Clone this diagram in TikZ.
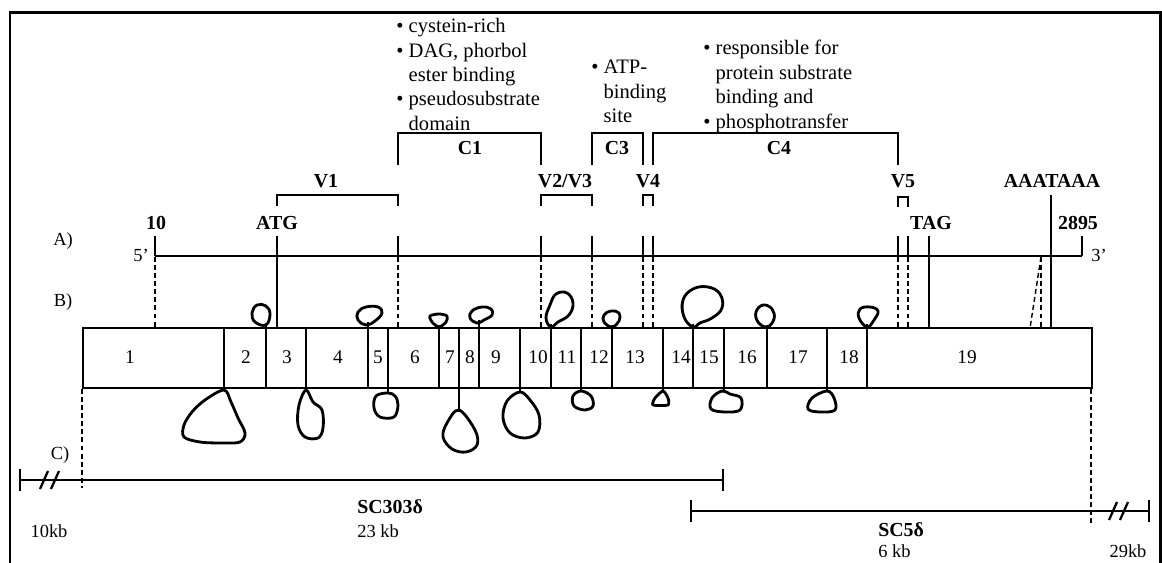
\documentclass[tikz,border=0pt]{standalone}
\usepackage{fontspec}
\setmainfont{Liberation Serif}
\usetikzlibrary{positioning}

\begin{document}
\begin{tikzpicture}[
    x=0.02cm, y=-0.02cm,
    every node/.style={inner sep=0pt},
    boldlbl/.style={font=\fontsize{11.3}{13}\selectfont\bfseries},
    exnum/.style={font=\fontsize{11}{13}\selectfont},
    rowlbl/.style={font=\fontsize{10.5}{13}\selectfont},
    note/.style={font=\fontsize{11.7}{13.9}\selectfont, align=left, anchor=north west},
    outerframe/.style={line width=1.7pt},
    gene/.style={line width=1.3pt},
    thinmark/.style={line width=0.8pt},
    guide/.style={line width=1.1pt, dash pattern=on 2.8pt off 1.8pt},
    regionbracket/.style={line width=0.9pt},
    exonbox/.style={line width=1.4pt},
    rnaloop/.style={line width=1.6pt, line join=round},
    clone/.style={line width=1.3pt},
]
\useasboundingbox (0,0) rectangle (1162,563);
\draw[outerframe] (10,580) -- (10,13) -- (1160,13) -- (1160,580);

% domain notes
\node[note] (noteC1) at (396,18) {\textbullet\ cystein-rich\\\textbullet\ DAG, phorbol\\\hphantom{\textbullet\ }ester binding\\\textbullet\ pseudosubstrate\\\hphantom{\textbullet\ }domain};
\node[note] (noteC3) at (591,60) {\textbullet\ ATP-\\\hphantom{\textbullet\ }binding\\\hphantom{\textbullet\ }site};
\node[note] (noteC4) at (703,40) {\textbullet\ responsible for\\\hphantom{\textbullet\ }protein substrate\\\hphantom{\textbullet\ }binding and\\\textbullet\ phosphotransfer};

% conserved and variable regions
\draw[regionbracket] (398,165) -- (398,133) -- (541,133) -- (541,165);
\draw[regionbracket] (592,165) -- (592,133) -- (643,133) -- (643,165);
\draw[regionbracket] (653,165) -- (653,133) -- (898,133) -- (898,165);
\draw[regionbracket] (277,206) -- (277,195) -- (398,195) -- (398,206);
\draw[regionbracket] (541,206) -- (541,195) -- (592,195) -- (592,206);
\draw[regionbracket] (643,206) -- (643,195) -- (653,195) -- (653,206);
\draw[regionbracket] (898,207) -- (898,197) -- (908,197) -- (908,207);
\node[boldlbl] (C1) at (470,148) {C1};
\node[boldlbl] (C3) at (617,148) {C3};
\node[boldlbl] (C4) at (779,148) {C4};
\node[boldlbl] (V1) at (326,181) {V1};
\node[boldlbl] (V23) at (565,181) {V2/V3};
\node[boldlbl] (V4) at (648,181) {V4};
\node[boldlbl] (V5) at (903,181) {V5};
\node[boldlbl] (polyA) at (1052,181) {AAATAAA};

% A) cDNA
\node[rowlbl] (rowA) at (63,241) {A)};
\node[rowlbl] (rowB) at (63,302) {B)};
\node[rowlbl] (rowC) at (60,455) {C)};
\node[boldlbl] (start10) at (156,223) {10};
\node[boldlbl] (atg) at (277,223) {ATG};
\node[boldlbl] (stop) at (931,223) {TAG};
\node[boldlbl] (end2895) at (1078,223) {2895};
\node[rowlbl] (five) at (141,255) {5'};
\node[rowlbl] (three) at (1099,255) {3'};
\draw[gene] (155,256) -- (1082,256);
\foreach \x in {155,398,541,592,643,653,898,908,1082}
  \draw[gene] (\x,236) -- (\x,256);
\foreach \x in {155,398,541,592,643,653,898,908}
  \draw[guide] (\x,257) -- (\x,328);
\draw[guide, line width=0.8pt] (1041,257) -- (1041,328);
\draw[guide, line width=0.8pt] (1041,257) -- (1030,328);
\draw[thinmark] (277,236) -- (277,328);
\draw[thinmark] (929,236) -- (929,328);
\draw[line width=1pt] (1051,195) -- (1051,328);

% B) exons
\draw[exonbox] (83,328) rectangle (1092,388);
\foreach \x in {224,266,306,368,388,439,459,479,520,551,581,612,663,693,724,767,827,867}
  \draw[exonbox] (\x,328) -- (\x,388);
\foreach \n/\x in {1/130,2/246,3/287,4/338,5/378,6/415,7/450,8/470,9/496,10/538,11/567,12/599,13/635,14/681,15/709,16/747,17/798,18/849,19/967}
  \node[exnum] (ex\n) at (\x,357) {\n};

% introns above
\foreach \x/\y in {266/323,368/322,439/325,479/320,551/324,612/325,693/324,767/325,867/324}
  \draw[rnaloop] (\x,328) -- (\x,\y);
\draw[rnaloop] plot[smooth cycle, tension=0.7] coordinates {(266,325) (255,322) (252,313) (257,305) (266,306) (270,314)};
\draw[rnaloop] plot[smooth cycle, tension=0.7] coordinates {(366,325) (358,320) (358,312) (366,307) (378,307) (382,313) (375,321)};
\draw[rnaloop] plot[smooth cycle, tension=0.5] coordinates {(439,327) (432,322) (430,316) (439,314) (447,316) (446,322)};
\draw[rnaloop] plot[smooth cycle, tension=0.7] coordinates {(477,323) (470,318) (472,311) (482,307) (491,309) (492,315) (484,320)};
\draw[rnaloop] plot[smooth cycle, tension=0.7] coordinates {(551,327) (546,318) (550,305) (556,294) (567,293) (573,303) (569,315) (558,322)};
\draw[rnaloop] plot[smooth cycle, tension=0.7] coordinates {(612,327) (604,322) (604,315) (611,311) (619,313) (619,321)};
\draw[rnaloop] plot[smooth cycle, tension=0.7] coordinates {(693,327) (684,317) (683,300) (693,289) (708,287) (720,294) (722,308) (712,318) (700,323)};
\draw[rnaloop] plot[smooth cycle, tension=0.7] coordinates {(767,327) (758,322) (756,312) (763,305) (772,309) (774,319)};
\draw[rnaloop] plot[smooth cycle, tension=0.7] coordinates {(867,327) (859,318) (860,309) (870,307) (878,311) (874,320)};

% introns below
\foreach \x/\y in {224/391,306/391,388/394,459/412,520/393,581/391,663/392,724/392,827/392}
  \draw[rnaloop] (\x,388) -- (\x,\y);
\draw[rnaloop] plot[smooth cycle, tension=0.55] coordinates {(224,390) (205,400) (192,412) (184,425) (184,437) (200,442) (222,443) (240,442) (245,433) (238,418) (231,402)};
\draw[rnaloop] plot[smooth cycle, tension=0.6] coordinates {(306,390) (299,405) (298,425) (305,437) (318,438) (323,428) (322,410) (313,402)};
\draw[rnaloop] plot[smooth cycle, tension=0.6] coordinates {(388,393) (376,396) (374,408) (380,417) (394,417) (398,405) (395,396)};
\draw[rnaloop] plot[smooth cycle, tension=0.6] coordinates {(459,410) (447,423) (443,437) (452,449) (466,452) (477,445) (475,430)};
\draw[rnaloop] plot[smooth cycle, tension=0.6] coordinates {(520,392) (507,401) (503,418) (510,433) (525,438) (538,432) (539,415) (530,400)};
\draw[rnaloop] plot[smooth cycle, tension=0.6] coordinates {(581,391) (573,396) (574,406) (585,410) (593,406) (591,396)};
\draw[rnaloop] plot[smooth cycle, tension=0.4] coordinates {(663,391) (655,398) (653,405) (668,405) (668,398)};
\draw[rnaloop] plot[smooth cycle, tension=0.6] coordinates {(722,391) (712,398) (711,409) (725,412) (740,410) (741,398) (730,394)};
\draw[rnaloop] plot[smooth cycle, tension=0.6] coordinates {(827,391) (812,398) (808,409) (820,412) (835,410) (834,398)};

% C) genomic clones
\draw[guide] (82,389) -- (82,488);
\draw[guide] (1091,389) -- (1091,523);
\draw[clone] (20,480) -- (723,480);
\draw[clone] (20,469) -- (20,491);
\draw[clone] (723,469) -- (723,491);
\draw[clone] (40,489) -- (48,471) (51,489) -- (59,471);
\draw[clone] (691,511) -- (1149,511);
\draw[clone] (691,500) -- (691,522);
\draw[clone] (1149,500) -- (1149,522);
\draw[clone] (1109,520) -- (1117,502) (1120,520) -- (1128,502);
\node[boldlbl, anchor=west] (sc303) at (357,507) {SC303δ};
\node[rowlbl, anchor=west] (kb23) at (357,531) {23 kb};
\node[rowlbl] (kb10) at (49,531) {10kb};
\node[boldlbl, anchor=west] (sc5) at (878,530) {SC5δ};
\node[rowlbl, anchor=west] (kb6) at (878,551) {6 kb};
\node[rowlbl] (kb29) at (1128,551) {29kb};
\end{tikzpicture}
\end{document}
